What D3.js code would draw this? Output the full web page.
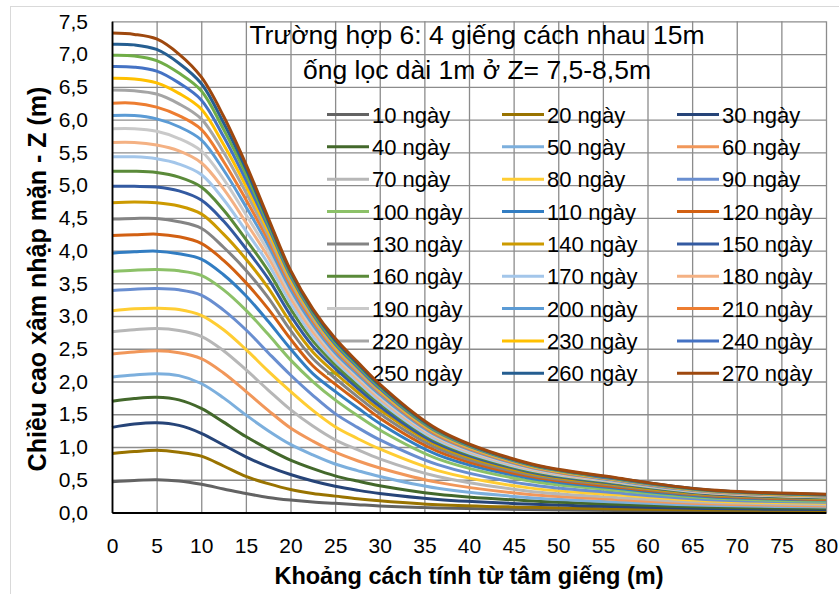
<!DOCTYPE html>
<html>
<head>
<meta charset="utf-8">
<script src="https://cdn.jsdelivr.net/npm/d3@7"></script>
<style>
  html, body { margin: 0; padding: 0; background: #ffffff; }
  svg { display: block; font-family: "Liberation Sans", Arial, sans-serif; }
</style>
</head>
<body>
<svg id="chart" width="839" height="594"></svg>
<script>
// Distance from the well centre (m)
const distances = [0, 2.5, 5, 7.5, 10, 12.5, 15, 17.5, 20, 22.5, 25, 27.5, 30, 36.5, 46.5, 56.5, 66.5, 80];

// Saltwater rise height Z (m) for each elapsed time
const z10  = [0.47, 0.49, 0.50, 0.48, 0.43, 0.36, 0.29, 0.23, 0.19, 0.16, 0.14, 0.12, 0.10, 0.07, 0.045, 0.03, 0.02, 0.015];
const z20  = [0.90, 0.93, 0.95, 0.92, 0.86, 0.71, 0.55, 0.44, 0.35, 0.29, 0.25, 0.21, 0.18, 0.12, 0.08, 0.055, 0.04, 0.03];
const z30  = [1.30, 1.35, 1.37, 1.33, 1.21, 1.03, 0.85, 0.70, 0.58, 0.48, 0.40, 0.34, 0.29, 0.20, 0.13, 0.09, 0.06, 0.045];
const z40  = [1.70, 1.74, 1.76, 1.72, 1.59, 1.38, 1.16, 0.97, 0.80, 0.67, 0.56, 0.48, 0.41, 0.28, 0.18, 0.125, 0.085, 0.065];
const z50  = [2.07, 2.10, 2.12, 2.09, 1.97, 1.75, 1.49, 1.25, 1.04, 0.88, 0.74, 0.64, 0.55, 0.37, 0.23, 0.16, 0.11, 0.085];
const z60  = [2.42, 2.45, 2.47, 2.44, 2.35, 2.13, 1.85, 1.56, 1.29, 1.09, 0.92, 0.79, 0.68, 0.46, 0.28, 0.20, 0.135, 0.10];
const z70  = [2.76, 2.79, 2.81, 2.78, 2.69, 2.47, 2.18, 1.87, 1.57, 1.32, 1.11, 0.96, 0.82, 0.55, 0.33, 0.23, 0.155, 0.12];
const z80  = [3.08, 3.11, 3.12, 3.10, 3.01, 2.79, 2.49, 2.16, 1.85, 1.56, 1.31, 1.13, 0.97, 0.64, 0.38, 0.27, 0.18, 0.14];
const z90  = [3.39, 3.41, 3.42, 3.40, 3.32, 3.09, 2.79, 2.44, 2.10, 1.79, 1.51, 1.30, 1.11, 0.73, 0.43, 0.30, 0.20, 0.155];
const z100 = [3.68, 3.70, 3.71, 3.69, 3.62, 3.40, 3.09, 2.72, 2.33, 2.00, 1.72, 1.48, 1.26, 0.82, 0.49, 0.34, 0.225, 0.17];
const z110 = [3.96, 3.98, 3.99, 3.95, 3.87, 3.63, 3.31, 2.92, 2.50, 2.12, 1.85, 1.60, 1.36, 0.88, 0.53, 0.37, 0.245, 0.19];
const z120 = [4.23, 4.24, 4.25, 4.21, 4.11, 3.85, 3.51, 3.11, 2.65, 2.24, 1.96, 1.70, 1.44, 0.935, 0.56, 0.39, 0.26, 0.20];
const z130 = [4.48, 4.49, 4.49, 4.44, 4.34, 4.05, 3.70, 3.28, 2.78, 2.35, 2.05, 1.77, 1.51, 0.98, 0.585, 0.41, 0.27, 0.21];
const z140 = [4.73, 4.74, 4.73, 4.68, 4.56, 4.25, 3.87, 3.43, 2.90, 2.45, 2.13, 1.84, 1.57, 1.02, 0.61, 0.425, 0.28, 0.215];
const z150 = [4.98, 4.98, 4.97, 4.91, 4.77, 4.45, 4.03, 3.57, 3.01, 2.54, 2.20, 1.90, 1.62, 1.05, 0.63, 0.44, 0.29, 0.225];
const z160 = [5.21, 5.21, 5.19, 5.12, 4.97, 4.62, 4.17, 3.69, 3.11, 2.62, 2.26, 1.95, 1.67, 1.08, 0.645, 0.45, 0.30, 0.23];
const z170 = [5.43, 5.43, 5.40, 5.32, 5.16, 4.78, 4.30, 3.80, 3.20, 2.69, 2.31, 2.00, 1.70, 1.10, 0.66, 0.46, 0.305, 0.235];
const z180 = [5.65, 5.65, 5.61, 5.52, 5.34, 4.94, 4.43, 3.90, 3.28, 2.76, 2.36, 2.04, 1.74, 1.13, 0.675, 0.47, 0.31, 0.24];
const z190 = [5.86, 5.86, 5.82, 5.71, 5.52, 5.09, 4.55, 3.99, 3.35, 2.82, 2.40, 2.08, 1.77, 1.145, 0.685, 0.48, 0.315, 0.245];
const z200 = [6.06, 6.06, 6.01, 5.89, 5.69, 5.23, 4.67, 4.08, 3.41, 2.87, 2.44, 2.11, 1.80, 1.165, 0.70, 0.485, 0.32, 0.25];
const z210 = [6.25, 6.25, 6.19, 6.06, 5.85, 5.36, 4.78, 4.16, 3.47, 2.92, 2.48, 2.145, 1.83, 1.18, 0.71, 0.495, 0.325, 0.253];
const z220 = [6.45, 6.44, 6.39, 6.24, 6.01, 5.50, 4.89, 4.23, 3.52, 2.96, 2.51, 2.17, 1.85, 1.20, 0.72, 0.50, 0.33, 0.256];
const z230 = [6.63, 6.62, 6.56, 6.40, 6.16, 5.62, 4.99, 4.30, 3.57, 3.00, 2.54, 2.20, 1.87, 1.21, 0.725, 0.505, 0.335, 0.26];
const z240 = [6.81, 6.80, 6.74, 6.56, 6.30, 5.74, 5.08, 4.36, 3.61, 3.03, 2.57, 2.22, 1.89, 1.225, 0.735, 0.51, 0.34, 0.265];
const z250 = [6.98, 6.97, 6.90, 6.71, 6.44, 5.85, 5.17, 4.41, 3.645, 3.06, 2.60, 2.25, 1.92, 1.24, 0.745, 0.52, 0.343, 0.27];
const z260 = [7.15, 7.14, 7.07, 6.86, 6.55, 5.95, 5.25, 4.455, 3.675, 3.085, 2.63, 2.275, 1.94, 1.255, 0.75, 0.525, 0.347, 0.275];
const z270 = [7.32, 7.30, 7.23, 7.00, 6.65, 6.05, 5.32, 4.50, 3.70, 3.11, 2.66, 2.30, 1.96, 1.27, 0.76, 0.53, 0.35, 0.28];

const seriesValues = [z10, z20, z30, z40, z50, z60, z70, z80, z90, z100, z110, z120, z130, z140,
                      z150, z160, z170, z180, z190, z200, z210, z220, z230, z240, z250, z260, z270];

const dayLabels = ["10 ngày", "20 ngày", "30 ngày", "40 ngày", "50 ngày", "60 ngày", "70 ngày",
                   "80 ngày", "90 ngày", "100 ngày", "110 ngày", "120 ngày", "130 ngày", "140 ngày",
                   "150 ngày", "160 ngày", "170 ngày", "180 ngày", "190 ngày", "200 ngày", "210 ngày",
                   "220 ngày", "230 ngày", "240 ngày", "250 ngày", "260 ngày", "270 ngày"];

const seriesColors = ["#636363", "#997300", "#264478", "#43682B", "#7CAFDD", "#F1975A", "#B7B7B7",
                      "#FFCD33", "#698ED0", "#8CC168", "#327DC2", "#D26012", "#848484", "#CC9A00",
                      "#335AA1", "#5A8A39", "#A3C6EA", "#F4B183", "#C9C9C9", "#5B9BD5", "#ED7D31",
                      "#A5A5A5", "#FFC000", "#4472C4", "#70AD47", "#255E91", "#9E480E"];

const xTickValues = [0, 5, 10, 15, 20, 25, 30, 35, 40, 45, 50, 55, 60, 65, 70, 75, 80];
const yTickValues = [0, 0.5, 1, 1.5, 2, 2.5, 3, 3.5, 4, 4.5, 5, 5.5, 6, 6.5, 7, 7.5];

const titleLines = ["Trường hợp 6: 4 giếng cách nhau 15m", "ống lọc dài 1m ở Z= 7,5-8,5m"];
const xAxisTitle = "Khoảng cách tính từ tâm giếng (m)";
const yAxisTitle = "Chiều cao xâm nhập mặn - Z (m)";

// ---- layout ----
const svg = d3.select("#chart");
const plot = { left: 112, right: 826, top: 21.3, bottom: 512.5 };

const x = d3.scaleLinear().domain([0, 80]).range([plot.left, plot.right]);
const y = d3.scaleLinear().domain([0, 7.5]).range([plot.bottom, plot.top]);
const commaFmt = v => d3.format(".1f")(v).replace(".", ",");

// outer chart frame
svg.append("rect")
  .attr("x", 10.5).attr("y", 6.5)
  .attr("width", 860).attr("height", 620)
  .attr("fill", "#ffffff").attr("stroke", "#d9d9d9").attr("stroke-width", 1);

// gridlines
const grid = svg.append("g").attr("class", "grid");
grid.append("g")
  .attr("transform", `translate(${plot.left},0)`)
  .call(d3.axisLeft(y).tickValues(yTickValues).tickSize(-(plot.right - plot.left)).tickFormat(""))
  .call(g => g.select(".domain").remove())
  .call(g => g.selectAll("line").attr("stroke", "#8c8c8c").attr("stroke-width", 1.3));
grid.append("g")
  .attr("transform", `translate(0,${plot.bottom})`)
  .call(d3.axisBottom(x).tickValues(xTickValues).tickSize(-(plot.bottom - plot.top)).tickFormat(""))
  .call(g => g.select(".domain").remove())
  .call(g => g.selectAll("line").attr("stroke", "#8c8c8c").attr("stroke-width", 1.3));

// title
const title = svg.append("g").attr("class", "title");
titleLines.forEach((t, i) => {
  title.append("text")
    .attr("x", 477).attr("y", 44 + i * 34.5)
    .attr("text-anchor", "middle")
    .attr("font-size", 26.5).attr("fill", "#000")
    .text(t);
});

// legend: three columns, nine rows
const legend = svg.append("g").attr("class", "legend");
const colX = [327, 502, 677];
dayLabels.forEach((lab, i) => {
  const col = i % 3, row = Math.floor(i / 3);
  const cy = 114.5 + row * 32.35;
  const item = legend.append("g");
  item.append("line")
    .attr("x1", colX[col]).attr("x2", colX[col] + 42)
    .attr("y1", cy).attr("y2", cy)
    .attr("stroke", seriesColors[i]).attr("stroke-width", 3);
  item.append("text")
    .attr("x", colX[col] + 45).attr("y", cy + 8)
    .attr("font-size", 22).attr("fill", "#000")
    .text(lab);
});

// series lines
const line = d3.line()
  .x((d, i) => x(distances[i]))
  .y(d => y(d))
  .curve(d3.curveCatmullRom.alpha(0.5));

svg.append("g").attr("class", "series")
  .selectAll("path")
  .data(seriesValues)
  .join("path")
  .attr("fill", "none")
  .attr("stroke", (d, i) => seriesColors[i])
  .attr("stroke-width", 3)
  .attr("stroke-linejoin", "round")
  .attr("d", line);

// axes lines and tick labels
svg.append("g")
  .attr("transform", `translate(${plot.left},0)`)
  .call(d3.axisLeft(y).tickValues(yTickValues).tickSize(0).tickPadding(24).tickFormat(commaFmt))
  .call(g => g.select(".domain").attr("stroke", "#000").attr("stroke-width", 1.8))
  .call(g => g.selectAll("text").attr("font-size", 21).attr("fill", "#000")
    .attr("font-family", "'Liberation Sans', Arial, sans-serif"));

svg.append("g")
  .attr("transform", `translate(0,${plot.bottom})`)
  .call(d3.axisBottom(x).tickValues(xTickValues).tickSize(0).tickPadding(25.5).tickFormat(d3.format("d")))
  .call(g => g.select(".domain").attr("stroke", "#000").attr("stroke-width", 1.8))
  .call(g => g.selectAll("text").attr("font-size", 21).attr("fill", "#000")
    .attr("font-family", "'Liberation Sans', Arial, sans-serif"));

// axis titles
svg.append("text")
  .attr("x", (plot.left + plot.right) / 2).attr("y", 584)
  .attr("text-anchor", "middle")
  .attr("font-size", 23.5).attr("font-weight", "bold").attr("fill", "#000")
  .text(xAxisTitle);

svg.append("text")
  .attr("transform", `translate(46,279) rotate(-90)`)
  .attr("text-anchor", "middle")
  .attr("font-size", 25).attr("font-weight", "bold").attr("fill", "#000")
  .text(yAxisTitle);
</script>
</body>
</html>
